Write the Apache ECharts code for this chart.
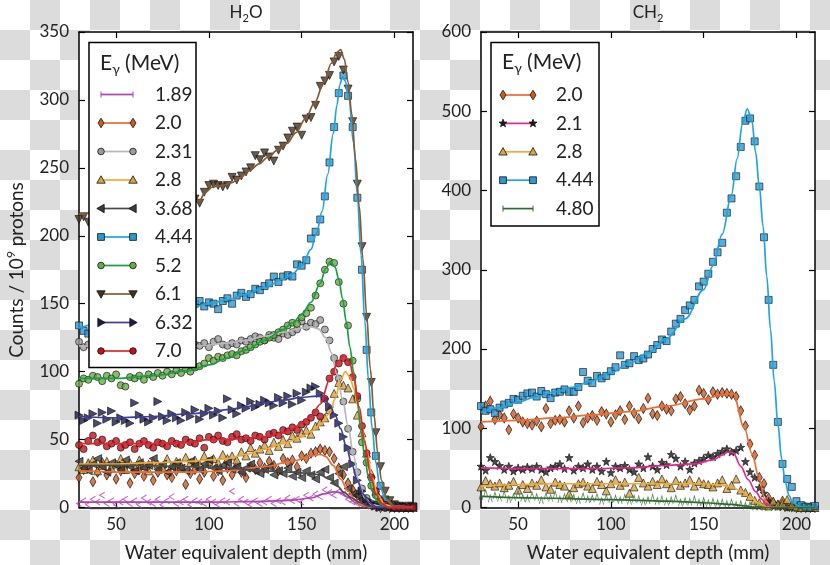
<!DOCTYPE html>
<html><head><meta charset="utf-8">
<script src="https://cdn.jsdelivr.net/npm/echarts@6/dist/echarts.min.js"></script>
<style>
html,body{margin:0;padding:0;}
body{width:830px;height:565px;background:repeating-conic-gradient(#dcdcdc 0% 25%, #ffffff 0% 50%) 0 0/60px 60px;}
#c{width:830px;height:565px;}
</style></head><body><div id="c"></div>
<script>
// ---------------- data ----------------
const depth = [30,32.5,35,37.5,40,42.5,45,47.5,50,52.5,55,57.5,60,62.5,65,67.5,70,72.5,75,77.5,80,82.5,85,87.5,90,92.5,95,97.5,100,102.5,105,107.5,110,112.5,115,117.5,120,122.5,125,127.5,130,132.5,135,137.5,140,142.5,145,147.5,150,152.5,155,157.5,160,162.5,165,167.5,170,172.5,175,177.5,180,182.5,185,187.5,190,192.5,195,197.5,200,202.5,205,207.5,210];
const xTicks = [50,100,150,200];
const yTicksH2O = [0,50,100,150,200,250,300,350];
const yTicksCH2 = [0,100,200,300,400,500,600];

// H2O measured counts
const h2o_189 = [3,5,2,6,4,9,3,5,2,4, 6,3,5,2,7,4,3,6,2,5, 8,3,4,6,2,5,4,3,6,4, 2,5,4,12,3,6,4,2,5,3, 4,6,3,5,4,7,5,6,4,9, 7,10,8,13,11,9,12,10,6,4, 3,2,1,1,0,1,0,0,1,0, 0,0,0];
const h2o_200 = [22,28,31,19,26,33,24,29,21,27, 30,18,25,28,23,31,20,26,29,24, 22,27,30,17,25,28,21,26,32,23, 27,20,29,24,31,26,22,30,28,33, 29,34,31,27,36,33,35,30,38,36, 40,41,43,42,41,36,29,24,18,13, 9,6,3,2,1,0,1,0,0,0, 0,0,0];
const h2o_231 = [122,118,120,117,121,119,116,120,118,122, 119,117,121,118,120,116,119,121,118,120, 117,121,119,122,118,120,119,121,118,122, 124,120,119,121,120,123,122,124,126,125, 123,127,125,124,128,127,129,131,137,133, 136,135,138,131,123,110,95,78,58,41, 26,14,7,3,2,1,0,1,0,0, 0,0,0];
const h2o_280 = [30,28,33,35,27,31,34,29,32,36, 28,33,30,35,31,27,34,32,29,36, 31,34,30,37,33,35,32,38,34,36, 33,39,36,38,35,41,38,44,40,43, 46,42,48,45,50,47,53,51,55,57, 54,60,63,66,72,84,92,90,88,80, 68,55,40,25,12,6,3,1,0,1, 0,0,0];
const h2o_368 = [34,29,27,32,36,30,26,33,31,28, 35,30,27,33,29,31,36,28,32,26, 30,33,29,27,34,31,28,32,35,29, 27,31,33,28,30,26,29,32,27,25, 28,30,24,27,25,29,23,26,22,27, 24,21,26,28,22,18,25,30,14,10, 9,6,3,2,1,0,1,0,0,1, 0,0,0];
const h2o_444 = [134,130,128,133,136,135,131,138,136,140, 139,142,140,138,143,141,144,142,145,143, 146,144,148,147,146,150,152,148,151,150, 146,152,154,150,156,158,155,157,161,160, 163,165,170,166,170,171,170,179,178,182, 198,203,212,229,254,280,305,318,303,280, 228,175,116,70,38,16,6,2,1,0, 0,0,1];
const h2o_520 = [91,95,94,97,96,93,97,95,98,90, 89,96,95,97,94,98,96,99,97,100, 98,101,99,102,100,103,104,106,110,108, 111,110,112,113,112,115,116,118,120,122, 123,125,127,129,131,134,136,135,140,143, 147,156,165,175,181,180,166,150,134,108, 80,48,33,16,9,4,2,1,0,1, 0,0,0];
const h2o_610 = [212,214,210,215,217,214,219,216,218,220, 218,221,219,222,220,223,222,224,221,225, 223,226,224,222,225,227,224,232,237,238, 237,236,237,243,241,244,247,250,259,256, 261,258,255,263,266,272,277,280,274,286, 287,296,310,314,318,328,332,322,308,284, 238,192,140,92,55,30,12,5,2,1, 0,1,0];
const h2o_632 = [68,64,66,69,62,70,65,71,63,66, 64,62,77,68,65,63,66,78,67,64, 69,66,64,70,67,72,65,69,73,68, 71,66,80,72,69,75,73,78,74,76, 79,77,75,81,77,82,76,84,79,85, 88,89,84,80,74,68,62,52,44,32, 20,12,6,3,1,0,1,0,0,0, 0,0,0];
const h2o_700 = [46,43,49,53,48,50,45,47,49,44, 46,48,43,47,49,46,44,48,47,45, 49,47,46,50,48,47,51,44,52,50, 53,49,48,52,54,50,51,49,53,52, 50,54,55,53,57,56,59,57,61,63, 66,70,67,80,95,100,106,110,107,96, 82,60,40,22,12,5,2,1,0,0, 0,0,0];

// H2O fitted curves [depth, counts]
const fit_h2o_189 = [[30,4],[60,4],[100,4],[130,4.5],[145,5.5],[155,7],[162,10],[167,11.5],[171,11],[175,7.5],[179,3.5],[183,1.2],[188,0.2],[195,0],[210,0]];
const fit_h2o_200 = [[30,27],[60,26],[90,26],[110,27],[130,30],[145,34],[155,38],[160,39],[163,37.5],[167,31],[171,21],[175,12],[179,5],[183,1.5],[188,0],[210,0]];
const fit_h2o_231 = [[30,119],[50,118],[70,118],[95,119],[110,121],[120,123],[130,126],[140,129],[150,132],[155,133],[159,131.5],[163,125],[166,114],[169,98],[172,80],[175,60],[178,38],[181,18],[184,7],[188,2],[195,0],[210,0]];
const fit_h2o_280 = [[30,32],[50,32],[70,33],[90,34],[100,35],[110,36],[120,39],[130,43],[140,47],[150,52],[155,56],[160,61],[165,69],[168,80],[171,94],[173.5,100],[176,96],[178,88],[180,76],[182,62],[185,42],[188,22],[191,9],[195,2],[200,0],[210,0]];
const fit_h2o_368 = [[30,31],[60,31],[90,30],[110,29],[130,27],[145,26],[155,25],[160,24],[165,21],[169,16],[173,11],[177,7],[181,4],[186,1],[190,0],[210,0]];
const fit_h2o_444 = [[30,132],[50,138],[70,142],[90,147],[100,150],[110,153],[120,157],[130,162],[140,168],[145,172],[150,178],[155,190],[158,202],[161,218],[164,245],[167,275],[169,296],[170.5,311],[172,317],[173.5,314],[175.5,300],[178,268],[180,230],[182,186],[184,138],[186,94],[188,58],[190,33],[192,17],[195,6],[200,1],[210,0]];
const fit_h2o_520 = [[30,95],[50,95],[70,97],[90,101],[100,105],[110,110],[120,116],[130,123],[140,131],[145,136],[150,142],[155,151],[160,165],[163,176],[165.5,181],[168,177],[170,168],[172,154],[174,137],[176,118],[178,100],[180,78],[182,56],[184,37],[186,22],[188,12],[190,6],[193,2],[197,0],[210,0]];
const fit_h2o_610 = [[30,216],[50,218],[70,221],[90,224],[95,226],[98,232],[102,236],[107,237],[112,239],[117,243],[122,248],[127,253],[132,258],[137,263],[142,268],[147,276],[152,286],[157,298],[162,313],[166,327],[169,335],[171,337],[173,330],[175,313],[177,290],[179,257],[181,222],[183,183],[185,142],[187,102],[189,68],[191,40],[193,20],[196,6],[200,1],[210,0]];
const fit_h2o_632 = [[30,67],[50,66],[70,67],[90,69],[100,70],[110,72],[120,74],[130,77],[140,79],[150,81],[158,82],[161,81.5],[165,76],[168,68],[171,58],[174,45],[177,32],[180,20],[183,10],[186,4],[190,0.5],[195,0],[210,0]];
const fit_h2o_700 = [[30,47],[50,47],[70,47],[90,48],[100,50],[110,50],[120,51],[130,52],[140,55],[145,58],[150,62],[155,67],[160,76],[165,94],[170,108],[173,112],[176,106],[178,96],[181,74],[184,48],[187,25],[190,10],[193,3],[197,0],[210,0]];

// CH2 measured counts
const ch2_200 = [102,128,134,111,117,113,98,118,113,108, 106,104,109,102,125,106,110,111,108,122, 113,128,107,113,116,110,121,118,108,117, 122,111,128,119,112,125,138,118,116,128, 124,122,137,140,131,123,128,148,144,136, 146,143,145,144,143,140,122,103,80,66, 38,30,12,6,3,8,2,1,0,0, 0,0,0];
const ch2_210 = [52,47,63,58,53,48,52,46,50,48, 51,49,52,48,45,50,52,55,49,63, 47,52,50,55,48,52,46,58,44,52, 50,53,48,45,55,50,64,52,48,57, 54,67,62,52,58,48,56,59,62,66, 64,68,71,74,70,72,76,58,45,38, 25,18,8,5,2,1,0,1,0,0, 0,0,0];
const ch2_280 = [26,34,30,27,31,25,28,33,22,29, 24,31,28,35,26,23,32,29,27,17, 25,30,32,27,24,33,29,21,30,35, 28,32,18,26,38,31,27,33,29,36, 30,25,34,28,31,35,27,33,30,29, 26,31,35,24,28,36,22,19,14,9, 6,3,2,8,4,5,10,3,1,0, 0,0,0];
const ch2_444 = [128,122,124,119,126,130,132,137,136,141, 144,145,140,147,143,138,145,146,149,146, 146,152,171,160,157,166,163,166,172,177, 192,180,182,191,186,188,193,200,205,212, 210,222,232,238,249,255,262,279,285,295, 310,322,334,372,390,418,455,488,491,462, 405,341,262,180,108,55,36,26,8,3, 1,0,2];
const ch2_480 = [14,18,11,15,12,16,10,13,17,12, 11,15,13,9,14,12,16,10,13,11, 12,9,14,10,11,13,8,12,10,11, 9,12,8,11,10,7,9,12,8,10, 7,9,11,6,8,7,10,6,8,5, 7,5,6,4,6,3,4,2,3,1, 1,0,1,0,0,1,0,0,0,0, 0,0,0];

// CH2 fitted curves
const fit_ch2_200 = [[30,108],[50,110],[70,113],[90,117],[110,121],[130,128],[150,137],[160,142],[165.8,144],[172,100],[176,68],[180,36],[183,10],[186,1.5],[190,0],[210,0]];
const fit_ch2_210 = [[30,50],[50,49],[70,49],[90,49],[110,50],[130,53],[145,55],[155,60],[160,66],[163,70],[166,69],[170,52],[174,35],[178,20],[181,11],[184,4],[188,0],[210,0]];
const fit_ch2_280 = [[30,27],[50,29],[70,30],[100,30],[130,30],[150,30],[160,28],[165,26],[170,21],[175,13],[180,5],[184,0.5],[188,0],[210,0]];
const fit_ch2_444 = [[30,120],[40,126],[50,133],[60,140],[70,146],[80,152],[90,160],[100,170],[110,182],[120,195],[130,213],[140,238],[150,275],[155,305],[160,345],[165,395],[168,440],[171,485],[173.5,503],[176,488],[178,448],[180,405],[182,355],[184,292],[186,225],[188,160],[190,105],[192,62],[194,32],[196,15],[198,6],[202,1],[210,0]];
const fit_ch2_480 = [[30,14],[60,12],[100,10],[130,8],[150,6],[165,4],[172,2],[178,0.5],[185,0],[210,0]];

const namesH2O = ['1.89','2.0','2.31','2.8','3.68','4.44','5.2','6.1','6.32','7.0'];
const namesCH2 = ['2.0','2.1','2.8','4.44','4.80'];

// ---------------- styles ----------------
const FONT = 'Lato, "Open Sans", "DejaVu Sans", sans-serif';
const TXT = '#222';
const STY = {
  '1.89': {line:'#b33fb3', fill:'#b33fb3', sym:'tick'},
  '2.0':  {line:'#f26a2e', fill:'#cf5a1e', sym:'diamond'},
  '2.1':  {line:'#e8238f', fill:'#1a1a1a', sym:'star'},
  '2.31': {line:'#b8b8b8', fill:'#9c9c9c', sym:'circle'},
  '2.8':  {line:'#f7a831', fill:'#d7a443', sym:'triUp'},
  '3.68': {line:'#4a4a4a', fill:'#3c3c3c', sym:'triLeft'},
  '4.44': {line:'#1ea4e0', fill:'#2a9ad4', sym:'rect'},
  '4.80': {line:'#2e6b2e', fill:'#2e6b2e', sym:'spike'},
  '5.2':  {line:'#16a040', fill:'#66ad46', sym:'circle'},
  '6.1':  {line:'#8a5a2e', fill:'#43331f', sym:'triDown'},
  '6.32': {line:'#3d3d9e', fill:'#1d1d4d', sym:'triRight'},
  '7.0':  {line:'#e5222b', fill:'#c3121c', sym:'circle'}
};
const STAR = 'path://M0,-10L2.35,-3.24L9.51,-3.09L3.8,1.24L5.88,8.09L0,4L-5.88,8.09L-3.8,1.24L-9.51,-3.09L-2.35,-3.24Z';
const SYM = {
  circle:  {symbol:'circle', size:7, rot:0},
  rect:    {symbol:'rect', size:7, rot:0},
  diamond: {symbol:'diamond', size:[6,10], rot:0},
  triUp:   {symbol:'triangle', size:8, rot:0},
  triDown: {symbol:'triangle', size:8, rot:180},
  triLeft: {symbol:'triangle', size:8, rot:90},
  triRight:{symbol:'triangle', size:8, rot:-90},
  star:    {symbol:STAR, size:8, rot:0},
  tick:    {symbol:'path://M10,0L0,5L10,10', size:[5,6], rot:0, hollow:true},
  spike:   {symbol:'path://M0,10L5,0L10,10', size:[4,7], rot:0, hollow:true}
};

const dataH2O = {'1.89':[h2o_189,fit_h2o_189],'2.0':[h2o_200,fit_h2o_200],'2.31':[h2o_231,fit_h2o_231],'2.8':[h2o_280,fit_h2o_280],'3.68':[h2o_368,fit_h2o_368],'4.44':[h2o_444,fit_h2o_444],'5.2':[h2o_520,fit_h2o_520],'6.1':[h2o_610,fit_h2o_610],'6.32':[h2o_632,fit_h2o_632],'7.0':[h2o_700,fit_h2o_700]};
const dataCH2 = {'2.0':[ch2_200,fit_ch2_200],'2.1':[ch2_210,fit_ch2_210],'2.8':[ch2_280,fit_ch2_280],'4.44':[ch2_444,fit_ch2_444],'4.80':[ch2_480,fit_ch2_480]};

const series = [];
function addSeries(names, data, axisIdx){
  names.forEach(n => {
    const st = STY[n], sm = SYM[st.sym];
    const vals = data[n][0];
    const pts = vals.map((v,i) => [depth[i], v]);
    series.push({
      type:'scatter', name:n, xAxisIndex:axisIdx, yAxisIndex:axisIdx, data:pts, silent:true,
      symbol:sm.symbol, symbolSize:sm.size, symbolRotate:sm.rot,
      itemStyle: sm.hollow ? {color:'rgba(0,0,0,0)', borderColor:st.line, borderWidth:1}
                           : {color:st.fill, borderColor:'#111', borderWidth:0.8}
    });
    series.push({
      type:'line', name:n, xAxisIndex:axisIdx, yAxisIndex:axisIdx, data:data[n][1], silent:true,
      smooth:0.35, smoothMonotone:'x', showSymbol:false, symbol:'none',
      lineStyle:{color:st.line, width:1.7}
    });
  });
}
addSeries(namesH2O, dataH2O, 0);
addSeries(namesCH2, dataCH2, 2);

// ---------------- layout ----------------
const G = [{left:79, top:32, width:334, height:475.5}, {left:481, top:32, width:334, height:475.5}];
const axLine = {show:true, lineStyle:{color:'#000', width:1.5}};
const tick = (vals) => ({show:true, inside:true, length:6, customValues:vals, lineStyle:{color:'#000', width:1.2}});
const lab = (vals, show) => ({show:show, customValues:vals, fontSize:17, color:TXT, fontFamily:FONT, margin:9});
function xAx(grid, pos, show){ return {type:'value', gridIndex:grid, position:pos, min:30, max:210, axisLine:{...axLine, onZero:false}, axisTick:tick(xTicks), axisLabel:lab(xTicks, show), splitLine:{show:false}}; }
function yAx(grid, pos, show, max, ticks){ return {type:'value', gridIndex:grid, position:pos, min:0, max:max, interval:ticks[1]-ticks[0], axisLine:{...axLine, onZero:false}, axisTick:{show:true, inside:true, length:6, lineStyle:{color:'#000', width:1.2}}, axisLabel:{show:show, fontSize:17, color:TXT, fontFamily:FONT, margin:10}, splitLine:{show:false}}; }

// ---------------- graphic: legends & texts ----------------
function marker(kind, cx, cy, fill, line){
  const st = {fill:fill, stroke:'#111', lineWidth:0.8};
  const poly = p => ({type:'polygon', shape:{points:p}, style:st, z:102});
  switch(kind){
    case 'circle': return {type:'circle', shape:{cx:cx, cy:cy, r:3.3}, style:st, z:102};
    case 'rect': return {type:'rect', shape:{x:cx-3.4, y:cy-3.4, width:6.8, height:6.8}, style:st, z:102};
    case 'diamond': return poly([[cx,cy-4.8],[cx+3,cy],[cx,cy+4.8],[cx-3,cy]]);
    case 'triUp': return poly([[cx,cy-4.2],[cx+4.2,cy+3.2],[cx-4.2,cy+3.2]]);
    case 'triDown': return poly([[cx,cy+4.2],[cx+4.2,cy-3.2],[cx-4.2,cy-3.2]]);
    case 'triLeft': return poly([[cx-4.2,cy],[cx+3.2,cy-4.2],[cx+3.2,cy+4.2]]);
    case 'triRight': return poly([[cx+4.2,cy],[cx-3.2,cy-4.2],[cx-3.2,cy+4.2]]);
    case 'star': {
      const p=[]; for(let k=0;k<10;k++){const r=k%2?1.7:4.2; const a=-Math.PI/2+k*Math.PI/5; p.push([cx+r*Math.cos(a), cy+r*Math.sin(a)]);}
      return poly(p);
    }
    default: return {type:'line', shape:{x1:cx, y1:cy-3, x2:cx, y2:cy+3}, style:{stroke:line, lineWidth:1}, z:102};
  }
}
const graphic = [];
function legend(names, box, titleY, firstY, step, x0, x1, tx){
  graphic.push({type:'rect', shape:box, style:{fill:'#fff', stroke:'#000', lineWidth:1.5}, z:100});
  graphic.push({type:'text', x:x0-1, y:titleY, z:102, style:{text:'{a|E}{s|γ}{a| (MeV)}', align:'left', verticalAlign:'middle', textAlign:'left', textVerticalAlign:'middle',
    rich:{a:{fontSize:21, fontFamily:FONT, fill:TXT, lineHeight:26, verticalAlign:'middle'}, s:{fontSize:14, fontFamily:FONT, fill:TXT, lineHeight:14, verticalAlign:'bottom'}}}});
  names.forEach((n,i) => {
    const y = firstY + step*i, st = STY[n];
    graphic.push({type:'line', shape:{x1:x0, y1:y, x2:x1, y2:y}, style:{stroke:st.line, lineWidth:1.7}, z:101});
    graphic.push(marker(st.sym, x0, y, st.fill, st.line));
    graphic.push(marker(st.sym, x1, y, st.fill, st.line));
    graphic.push({type:'text', x:tx, y:y, z:102, style:{text:n, fontSize:19, fontFamily:FONT, fill:TXT, align:'left', verticalAlign:'middle', textAlign:'left', textVerticalAlign:'middle'}});
  });
}
legend(namesH2O, {x:89, y:42.5, width:107, height:325}, 63, 94.5, 28.5, 101, 133, 155);
legend(namesCH2, {x:491, y:42.5, width:108, height:183.5}, 62, 95, 28.4, 503, 533, 556);

function title(x, y, str){
  graphic.push({type:'text', x:x, y:y, z:102, style:{text:str, align:'center', verticalAlign:'middle', textAlign:'center', textVerticalAlign:'middle',
    rich:{a:{fontSize:17, fontFamily:FONT, fill:TXT, lineHeight:22, verticalAlign:'middle'}, s:{fontSize:11, fontFamily:FONT, fill:TXT, lineHeight:11, verticalAlign:'bottom'}}}});
}
title(246, 13, '{a|H}{s|2}{a|O}');
title(648, 13, '{a|CH}{s|2}');
[246, 648].forEach(x => graphic.push({type:'text', x:x, y:553, z:102, style:{text:'Water equivalent depth (mm)', fontSize:19, fontFamily:FONT, fill:TXT, align:'center', verticalAlign:'middle', textAlign:'center', textVerticalAlign:'middle'}}));
graphic.push({type:'text', x:17, y:270, rotation:Math.PI/2, z:102, style:{text:'{a|Counts / 10}{s|9}{a| protons}', align:'center', verticalAlign:'middle', textAlign:'center', textVerticalAlign:'middle',
  rich:{a:{fontSize:19, fontFamily:FONT, fill:TXT, lineHeight:24, verticalAlign:'middle'}, s:{fontSize:12, fontFamily:FONT, fill:TXT, lineHeight:12, verticalAlign:'top'}}}});

const chart = echarts.init(document.getElementById('c'), null, {renderer:'canvas'});
chart.setOption({
  animation:false,
  backgroundColor:'transparent',
  grid: G.map(g => ({...g, show:true, backgroundColor:'#fff', borderWidth:0, containLabel:false})),
  xAxis: [xAx(0,'bottom',true), xAx(0,'top',false), xAx(1,'bottom',true), xAx(1,'top',false)],
  yAxis: [yAx(0,'left',true,350,yTicksH2O), yAx(0,'right',false,350,yTicksH2O), yAx(1,'left',true,600,yTicksCH2), yAx(1,'right',false,600,yTicksCH2)],
  series: series,
  graphic: graphic
});
</script></body></html>
